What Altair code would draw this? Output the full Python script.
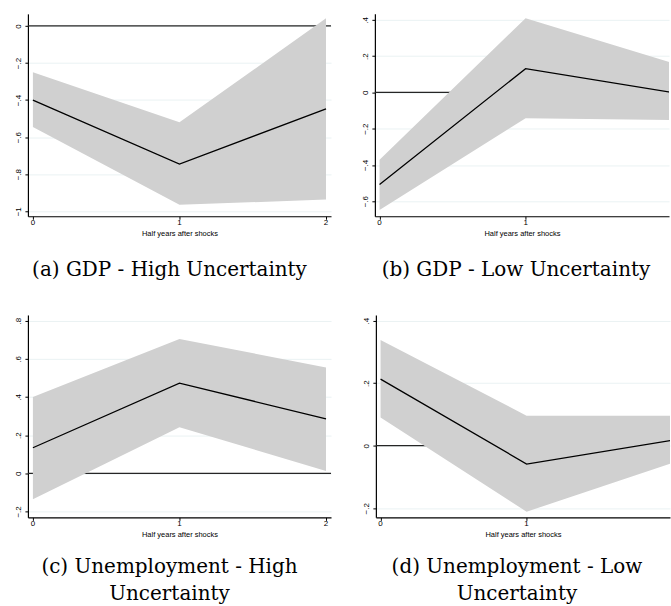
import altair as alt
import pandas as pd

# Horizon: half years after the shock
steps = [0, 1, 2]

# GDP response under high uncertainty
gdp_high_irf = [-0.400, -0.745, -0.448]
gdp_high_lo = [-0.545, -0.965, -0.937]
gdp_high_hi = [-0.250, -0.520, 0.041]

# GDP response under low uncertainty
gdp_low_irf = [-0.508, 0.131, 0.000]
gdp_low_lo = [-0.649, -0.142, -0.152]
gdp_low_hi = [-0.371, 0.409, 0.163]

# Unemployment response under high uncertainty
unemp_high_irf = [0.134, 0.473, 0.285]
unemp_high_lo = [-0.136, 0.242, 0.012]
unemp_high_hi = [0.400, 0.704, 0.555]

# Unemployment response under low uncertainty
unemp_low_irf = [0.213, -0.0585, 0.0175]
unemp_low_lo = [0.090, -0.211, -0.055]
unemp_low_hi = [0.338, 0.096, 0.096]

# Tick values for each panel's vertical axis
ticks_gdp_high = [0, -0.2, -0.4, -0.6, -0.8, -1]
ticks_gdp_low = [0.4, 0.2, 0, -0.2, -0.4, -0.6]
ticks_unemp_high = [0.8, 0.6, 0.4, 0.2, 0, -0.2]
ticks_unemp_low = [0.4, 0.2, 0, -0.2]

captions = [
    "(a) GDP - High Uncertainty",
    "(b) GDP - Low Uncertainty",
    ["(c) Unemployment - High", "Uncertainty"],
    ["(d) Unemployment - Low", "Uncertainty"],
]

PANEL_H = 203
LEFT_W = 304
LEFT_X = [-0.034, 2.034]
# right-hand panels run off the page edge, so their horizon is cut short
RIGHT_W = 295
RIGHT_X = [-0.032, 1.982]
CAPTION_FONT = "DejaVu Serif"
AXIS_FONT = "Liberation Sans"

# Stata-style labels: ".4", "-.2", "0", "-1"
LABEL_EXPR = "replace(format(datum.value, '~g'), '0.', '.')"


def panel(irf, lo, hi, y_domain, y_ticks, caption, x_domain, width, caption_dx, caption_offset):
    df = pd.DataFrame({"step": steps, "irf": irf, "lo": lo, "hi": hi})
    shown = [s for s in steps if x_domain[0] <= s <= x_domain[1]]
    x_scale = alt.Scale(domain=x_domain, nice=False, zero=False)
    y_scale = alt.Scale(domain=y_domain, nice=False, zero=False)
    y_axis = alt.Axis(values=y_ticks, labelExpr=LABEL_EXPR, title=None)
    x_axis = alt.Axis(values=shown, labels=False, title="Half years after shocks", titlePadding=10)

    zero_line = (
        alt.Chart(pd.DataFrame({"level": [0]}))
        .mark_rule(color="#262626", strokeWidth=1.2)
        .encode(y=alt.Y("level:Q", scale=y_scale, axis=y_axis))
    )
    band = (
        alt.Chart(df)
        .mark_area(color="#d0d0d0", opacity=1, clip=True)
        .encode(
            x=alt.X("step:Q", scale=x_scale, axis=x_axis),
            y=alt.Y("lo:Q", scale=y_scale, axis=y_axis),
            y2="hi:Q",
        )
    )
    line = (
        alt.Chart(df)
        .mark_line(color="black", strokeWidth=1.3, clip=True)
        .encode(
            x=alt.X("step:Q", scale=x_scale, axis=x_axis),
            y=alt.Y("irf:Q", scale=y_scale, axis=y_axis),
        )
    )
    # horizon labels under the x ticks
    step_labels = (
        alt.Chart(pd.DataFrame({"step": shown}))
        .mark_text(font=AXIS_FONT, fontSize=8, color="black", baseline="top", dy=3)
        .encode(
            x=alt.X("step:Q", scale=x_scale, axis=x_axis),
            y=alt.value(PANEL_H),
            text=alt.Text("step:Q", format="d"),
        )
    )
    return alt.layer(zero_line, band, line, step_labels).properties(
        width=width,
        height=PANEL_H,
        title=alt.TitleParams(
            text=caption,
            orient="bottom",
            anchor="middle",
            frame="group",
            dx=caption_dx,
            offset=caption_offset,
            font=CAPTION_FONT,
            fontSize=20,
            fontWeight="normal",
            color="black",
            lineHeight=27,
        ),
    )


pa = panel(gdp_high_irf, gdp_high_lo, gdp_high_hi, [-1.027, 0.065], ticks_gdp_high,
           captions[0], LEFT_X, LEFT_W, -10, 23)
pb = panel(gdp_low_irf, gdp_low_lo, gdp_low_hi, [-0.683, 0.433], ticks_gdp_low,
           captions[1], RIGHT_X, RIGHT_W, -6, 23)
pc = panel(unemp_high_irf, unemp_high_lo, unemp_high_hi, [-0.231, 0.83], ticks_unemp_high,
           captions[2], LEFT_X, LEFT_W, -10, 19)
pd_ = panel(unemp_low_irf, unemp_low_lo, unemp_low_hi, [-0.229, 0.418], ticks_unemp_low,
            captions[3], RIGHT_X, RIGHT_W, -6, 19)

chart = (
    alt.vconcat(
        alt.hconcat(pa, pb, spacing=30),
        alt.hconcat(pc, pd_, spacing=30),
        spacing=35,
    )
    .properties(padding={"left": 14, "top": 13, "right": 0, "bottom": 0})
    .configure_view(stroke=None)
    .configure_axis(
        domainColor="black",
        domainWidth=1.2,
        tickColor="black",
        tickSize=3,
        labelFont=AXIS_FONT,
        labelFontSize=8,
        labelColor="black",
        titleFont=AXIS_FONT,
        titleFontSize=7.5,
        titleFontWeight="normal",
        titleColor="black",
        gridColor="#eaf2f3",
        gridWidth=1,
    )
    .configure_axisY(labelAngle=270, labelAlign="center", labelBaseline="bottom", labelPadding=2, grid=True)
    .configure_axisX(grid=False)
)

chart.save("out.html", embed_options={"renderer": "svg", "actions": False})
